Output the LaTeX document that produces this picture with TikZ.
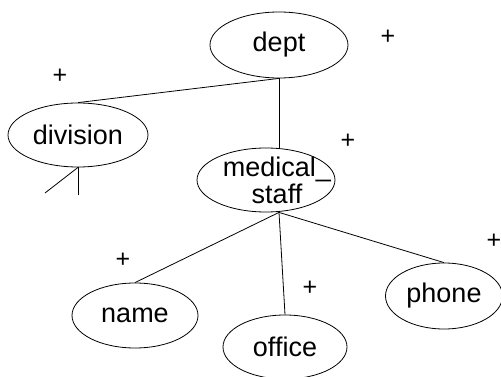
\documentclass[tikz,border=0pt]{standalone}
\usepackage{fontspec}
\setmainfont{Liberation Sans}
\usetikzlibrary{shapes.geometric}
\begin{document}
\begin{tikzpicture}[x=1pt,y=-1pt,
  entity/.style={draw,ellipse,inner sep=0pt,line width=0.8pt,
    font=\fontsize{27}{27}\selectfont,align=center},
  entitytext/.style={inner sep=0pt,font=\fontsize{27}{27}\selectfont,align=center},
  link/.style={line width=0.8pt},
  mult/.style={inner sep=0pt,font=\fontsize{25}{25}\selectfont}]
\clip (0,0) rectangle (501,377);

% entities
\node[entity,minimum width=138pt,minimum height=66pt] (dept) at (279,45) {dept};
\node[entity,minimum width=140pt,minimum height=64pt] (division) at (78,135) {division};
\node[entity,minimum width=138pt,minimum height=64pt,
  label={[entitytext,xshift=11pt]center:{medical\_\\staff}}] (ms) at (266,180) {};
\node[entity,minimum width=126pt,minimum height=65pt] (name) at (135,315.5) {name};
\node[entity,minimum width=124pt,minimum height=64pt] (office) at (285,347) {office};
\node[entity,minimum width=117pt,minimum height=66pt] (phone) at (444,296) {phone};

% attachment points
\coordinate (msbot) at (dept.south |- ms.south);
\coordinate (cf1) at (78,195);
\coordinate (cf2) at (45,193);

% connectors
\draw[link] (dept.south) -- (division.north);
\draw[link] (dept.south) -- (dept.south |- ms.north);
\draw[link] (msbot) -- (name.north);
\draw[link] (msbot) -- (office.north);
\draw[link] (msbot) -- (phone.north);
\draw[link] (division.south) -- (cf1);
\draw[link] (division.south) -- (cf2);

% multiplicity marks
\node[mult] (pdept) at (388,37) {+};
\node[mult] (pdiv) at (60,76) {+};
\node[mult] (pms) at (348,141) {+};
\node[mult] (pname) at (123,260) {+};
\node[mult] (poffice) at (310,288) {+};
\node[mult] (pphone) at (494,241) {+};
\end{tikzpicture}
\end{document}
